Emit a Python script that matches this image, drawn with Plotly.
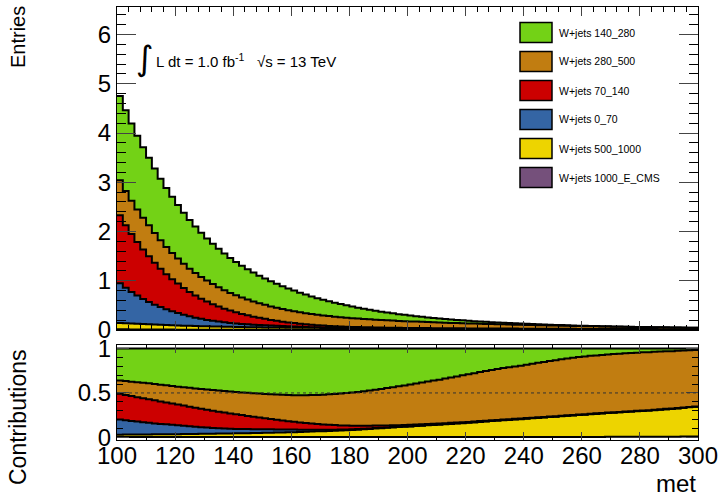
import plotly.graph_objects as go
import numpy as np

# ---------------- data ----------------
# bins of "met": 100 bins of width 2 from 100 to 300
bin_lo, bin_hi, bin_w = 100, 300, 2

series_names = ["W+jets 1000_E_CMS", "W+jets 500_1000", "W+jets 0_70",
                "W+jets 70_140", "W+jets 280_500", "W+jets 140_280"]
series_colors = ["#75507B", "#EDD400", "#3465A4", "#CC0000", "#C17D11", "#73D216"]

w_1000_E_CMS = [
    0.014, 0.0133, 0.0126, 0.0117, 0.0111, 0.0105, 0.0099, 0.0092, 0.0086, 0.0081,
    0.0076, 0.0072, 0.0068, 0.0063, 0.0060, 0.0056, 0.0053, 0.0050, 0.0046, 0.0044,
    0.0041, 0.0039, 0.0036, 0.0034, 0.0033, 0.0031, 0.0029, 0.0028, 0.0026, 0.0025,
    0.0024, 0.0023, 0.0021, 0.0020, 0.0019, 0.0018, 0.0017, 0.0016, 0.0015, 0.0015,
    0.0014, 0.0013, 0.0013, 0.0012, 0.0012, 0.0011, 0.0011, 0.0010, 0.0010, 0.0009,
    0.0009, 0.0008, 0.0008, 0.0008, 0.0007, 0.0007, 0.0007, 0.0007, 0.0006, 0.0006,
    0.0006, 0.0006, 0.0006, 0.0006, 0.0006, 0.0006, 0.0006, 0.0005, 0.0005, 0.0005,
    0.0005, 0.0005, 0.0005, 0.0005, 0.0005, 0.0005, 0.0005, 0.0004, 0.0004, 0.0004,
    0.0004, 0.0004, 0.0004, 0.0004, 0.0004, 0.0004, 0.0004, 0.0004, 0.0004, 0.0004,
    0.0004, 0.0004, 0.0004, 0.0004, 0.0004, 0.0004, 0.0004, 0.0004, 0.0004, 0.0004,
]
w_500_1000 = [
    0.128, 0.123, 0.118, 0.1136, 0.1092, 0.105, 0.1004, 0.0959, 0.0917, 0.0877,
    0.0838, 0.0806, 0.0774, 0.0744, 0.0716, 0.0688, 0.0665, 0.0643, 0.0621, 0.0600,
    0.058, 0.0563, 0.0547, 0.0531, 0.0515, 0.050, 0.0487, 0.0475, 0.0463, 0.0451,
    0.044, 0.0434, 0.0428, 0.0422, 0.0416, 0.041, 0.0404, 0.0398, 0.0392, 0.0386,
    0.038, 0.0379, 0.0377, 0.0376, 0.0374, 0.0373, 0.0369, 0.0365, 0.0361, 0.0357,
    0.0353, 0.0348, 0.0343, 0.0338, 0.0333, 0.0328, 0.0323, 0.0317, 0.0312, 0.0306,
    0.0301, 0.0297, 0.0293, 0.0290, 0.0286, 0.0282, 0.0277, 0.0271, 0.0266, 0.0261,
    0.0256, 0.0252, 0.0247, 0.0243, 0.0239, 0.0235, 0.0231, 0.0227, 0.0222, 0.0218,
    0.0214, 0.0210, 0.0207, 0.0203, 0.0200, 0.0196, 0.0192, 0.0188, 0.0185, 0.0181,
    0.0177, 0.0174, 0.0171, 0.0168, 0.0165, 0.0162, 0.0160, 0.0158, 0.0156, 0.0154,
]
w_0_70 = [
    0.808, 0.720, 0.642, 0.573, 0.510, 0.455, 0.405, 0.360, 0.321, 0.285,
    0.254, 0.222, 0.194, 0.170, 0.149, 0.130, 0.1145, 0.1009, 0.0889, 0.0783,
    0.069, 0.0625, 0.0566, 0.0512, 0.0464, 0.042, 0.0376, 0.0336, 0.0300, 0.0268,
    0.024, 0.0198, 0.0164, 0.0135, 0.0111, 0.0092, 0.0077, 0.0065, 0.0054, 0.0045,
    0.0038, 0.0033, 0.0029, 0.0025, 0.0022, 0.0019, 0.0016, 0.0014, 0.0012, 0.0010,
    0.0009, 0.0009, 0.0008, 0.0008, 0.0007, 0.0007, 0.0007, 0.0007, 0.0006, 0.0006,
    0.0006, 0.0006, 0.0006, 0.0005, 0.0005, 0.0005, 0.0005, 0.0005, 0.0004, 0.0004,
    0.0004, 0.0003, 0.0003, 0.0003, 0.0002, 0.0002, 0.0002, 0.0002, 0.0002, 0.0002,
    0.0002, 0.0002, 0.0002, 0.0002, 0.0002, 0.0001, 0.0001, 0.0001, 0.0001, 0.0001,
    0.0001, 0.0001, 0.0001, 0.0001, 0.0001, 0.0001, 0.0001, 0.0001, 0.0001, 0.0001,
]
w_70_140 = [
    1.378, 1.273, 1.176, 1.087, 1.004, 0.928, 0.850, 0.778, 0.712, 0.652,
    0.597, 0.543, 0.494, 0.450, 0.409, 0.372, 0.337, 0.306, 0.277, 0.251,
    0.228, 0.204, 0.1827, 0.1635, 0.1464, 0.131, 0.1156, 0.1019, 0.0899, 0.0793,
    0.070, 0.0616, 0.0543, 0.0478, 0.0420, 0.037, 0.0324, 0.0283, 0.0248, 0.0217,
    0.019, 0.0165, 0.0143, 0.0124, 0.0107, 0.0093, 0.0080, 0.0069, 0.0059, 0.0051,
    0.0044, 0.0039, 0.0034, 0.0030, 0.0026, 0.0023, 0.0020, 0.0018, 0.0016, 0.0014,
    0.0013, 0.0012, 0.0011, 0.0010, 0.0009, 0.0008, 0.0008, 0.0007, 0.0007, 0.0006,
    0.0006, 0.0006, 0.0005, 0.0005, 0.0004, 0.0004, 0.0004, 0.0004, 0.0003, 0.0003,
    0.0003, 0.0003, 0.0003, 0.0002, 0.0002, 0.0002, 0.0002, 0.0002, 0.0002, 0.0002,
    0.0002, 0.0002, 0.0002, 0.0002, 0.0002, 0.0002, 0.0002, 0.0001, 0.0001, 0.0001,
]
w_280_500 = [
    0.713, 0.696, 0.678, 0.662, 0.645, 0.630, 0.603, 0.578, 0.554, 0.530,
    0.508, 0.491, 0.474, 0.458, 0.443, 0.428, 0.410, 0.393, 0.376, 0.360,
    0.345, 0.332, 0.320, 0.308, 0.296, 0.285, 0.275, 0.266, 0.257, 0.248,
    0.240, 0.233, 0.226, 0.219, 0.212, 0.206, 0.200, 0.194, 0.189, 0.183,
    0.178, 0.1727, 0.1676, 0.1626, 0.1577, 0.153, 0.1489, 0.1449, 0.1410, 0.1372,
    0.1335, 0.1297, 0.1260, 0.1224, 0.1190, 0.1156, 0.1125, 0.1095, 0.1066, 0.1038,
    0.101, 0.0982, 0.0955, 0.0929, 0.0903, 0.0878, 0.0851, 0.0824, 0.0799, 0.0774,
    0.075, 0.0729, 0.0708, 0.0688, 0.0668, 0.0649, 0.0629, 0.0611, 0.0592, 0.0574,
    0.0557, 0.0539, 0.0521, 0.0504, 0.0488, 0.0472, 0.0457, 0.0442, 0.0427, 0.0413,
    0.040, 0.0386, 0.0373, 0.0360, 0.0347, 0.0335, 0.0324, 0.0313, 0.0302, 0.0292,
]
w_140_280 = [
    1.71, 1.636, 1.565, 1.498, 1.433, 1.372, 1.310, 1.251, 1.195, 1.141,
    1.09, 1.039, 0.990, 0.943, 0.898, 0.856, 0.817, 0.779, 0.743, 0.709,
    0.676, 0.645, 0.615, 0.587, 0.560, 0.534, 0.509, 0.485, 0.462, 0.441,
    0.42, 0.398, 0.377, 0.357, 0.338, 0.32, 0.301, 0.283, 0.267, 0.251,
    0.236, 0.221, 0.207, 0.194, 0.181, 0.170, 0.158, 0.147, 0.137, 0.128,
    0.119, 0.110, 0.1025, 0.0952, 0.0883, 0.082, 0.0756, 0.0697, 0.0642, 0.0592,
    0.0545, 0.0499, 0.0458, 0.0419, 0.0384, 0.0352, 0.0323, 0.0296, 0.0272, 0.0250,
    0.0229, 0.0206, 0.0185, 0.0167, 0.0150, 0.0135, 0.0120, 0.0107, 0.0096, 0.0085,
    0.0076, 0.0068, 0.0062, 0.0055, 0.0050, 0.0045, 0.0040, 0.0036, 0.0032, 0.0029,
    0.0026, 0.0024, 0.0021, 0.0019, 0.0017, 0.0016, 0.0013, 0.0011, 0.0009, 0.0007,
]

series_values = [w_1000_E_CMS, w_500_1000, w_0_70, w_70_140, w_280_500, w_140_280]
legend_order = ["W+jets 140_280", "W+jets 280_500", "W+jets 70_140",
                "W+jets 0_70", "W+jets 500_1000", "W+jets 1000_E_CMS"]

main_y_max = 6.56
x_title = "met"
y_title = "Entries"
y2_title = "Contributions"
lumi_text = "L dt = 1.0 fb<sup>-1</sup>   \u221As = 13 TeV"

# ---------------- figure ----------------
edges = np.arange(bin_lo, bin_hi + bin_w, bin_w)
vals = np.array(series_values, dtype=float)
total = vals.sum(axis=0)
fracs = vals / total

FONT = "Liberation Sans, Arial, Helvetica, sans-serif"
fig = go.Figure()

for name, col, v in zip(series_names, series_colors, vals):
    fig.add_trace(go.Scatter(
        x=edges, y=np.append(v, v[-1]), name=name, mode="lines",
        stackgroup="main", line=dict(color="black", width=2, shape="hv"),
        fillcolor=col, xaxis="x", yaxis="y", showlegend=False, hoverinfo="skip"))

for name, col, f in zip(series_names, series_colors, fracs):
    fig.add_trace(go.Scatter(
        x=edges, y=np.append(f, f[-1]), name=name, mode="lines",
        stackgroup="ratio", line=dict(color="black", width=2, shape="hv"),
        fillcolor=col, xaxis="x2", yaxis="y2", showlegend=False, hoverinfo="skip"))

L, R, T, B = 117, 24, 7, 56
W, H = 722, 496
pw, ph = W - L - R, H - T - B
main_bottom_px, ratio_top_px = 330, 345

def px_x(p):
    return (p - L) / pw

def px_y(p):
    return (H - B - p) / ph

axis_common = dict(showline=True, linecolor="black", linewidth=1, mirror="allticks",
                   ticks="inside", showgrid=False, zeroline=False, automargin=False,
                   tickfont=dict(size=24, family=FONT, color="black"))

fig.update_layout(
    width=W, height=H, margin=dict(l=L, r=R, t=T, b=B, autoexpand=False),
    plot_bgcolor="white", paper_bgcolor="white", showlegend=False,
    font=dict(family=FONT, color="black"),
    xaxis=dict(domain=[0, 1], anchor="y", range=[bin_lo, bin_hi], tick0=100, dtick=20,
               ticklen=9, showticklabels=False,
               minor=dict(dtick=4, ticklen=5, ticks="inside", tickcolor="black"),
               **axis_common),
    yaxis=dict(domain=[px_y(main_bottom_px), 1], anchor="x", range=[0, main_y_max], dtick=1,
               ticklen=19, ticklabelstandoff=0,
               minor=dict(dtick=0.2, ticklen=9, ticks="inside", tickcolor="black"),
               **axis_common),
    xaxis2=dict(domain=[0, 1], anchor="y2", range=[bin_lo, bin_hi], tick0=100, dtick=20,
                ticklen=8, ticklabelstandoff=-6,
                minor=dict(dtick=10, ticklen=4, ticks="inside", tickcolor="black"),
                **axis_common),
    yaxis2=dict(domain=[0, px_y(ratio_top_px)], anchor="x2", range=[-0.03, 1.04],
                tickvals=[0, 0.5, 1], ticktext=["0", "0.5", "1"], ticklen=12,
                minor=dict(dtick=0.1, ticklen=6, ticks="inside", tickcolor="black"),
                **axis_common),
)

# dotted reference line at 0.5 in the contributions panel
fig.add_shape(type="line", xref="x2", yref="y2", x0=bin_lo, x1=bin_hi, y0=0.5, y1=0.5,
              line=dict(color="#333333", width=1, dash="dot"), layer="above")

# legend (ROOT style boxes)
row0, row_step = 32.5, 29
col_of = dict(zip(series_names, series_colors))
for i, name in enumerate(legend_order):
    cy = row0 + i * row_step
    fig.add_shape(type="rect", xref="paper", yref="paper",
                  x0=px_x(520), x1=px_x(552), y0=px_y(cy + 10), y1=px_y(cy - 10),
                  fillcolor=col_of[name], line=dict(color="black", width=1.5), layer="above")
    fig.add_annotation(xref="paper", yref="paper", x=px_x(557), y=px_y(cy),
                       text=name, showarrow=False, xanchor="left", yanchor="middle",
                       font=dict(size=10.5, family=FONT, color="black"))

# luminosity label
fig.add_annotation(xref="paper", yref="paper", x=px_x(145), y=px_y(58), text="\u222B",
                   showarrow=False, xanchor="center", yanchor="middle",
                   font=dict(size=34, family="DejaVu Sans, " + FONT, color="black"))
fig.add_annotation(xref="paper", yref="paper", x=px_x(154), y=px_y(60), text=lumi_text,
                   showarrow=False, xanchor="left", yanchor="middle",
                   font=dict(size=15, family=FONT, color="black"))

# axis titles (ROOT style, aligned to axis end)
fig.add_annotation(xref="paper", yref="paper", x=px_x(698), y=px_y(483), text=x_title,
                   showarrow=False, xanchor="right", yanchor="middle",
                   font=dict(size=24, family=FONT, color="black"))
fig.add_annotation(xref="paper", yref="paper", x=px_x(18), y=px_y(4), text=y_title,
                   showarrow=False, xanchor="center", yanchor="top", textangle=-90,
                   font=dict(size=20, family=FONT, color="black"))
fig.add_annotation(xref="paper", yref="paper", x=px_x(18), y=px_y(347), text=y2_title,
                   showarrow=False, xanchor="center", yanchor="top", textangle=-90,
                   font=dict(size=23, family=FONT, color="black"))

fig.write_html("out.html", config={"displayModeBar": False},
               post_script="document.body.style.margin='0';")
